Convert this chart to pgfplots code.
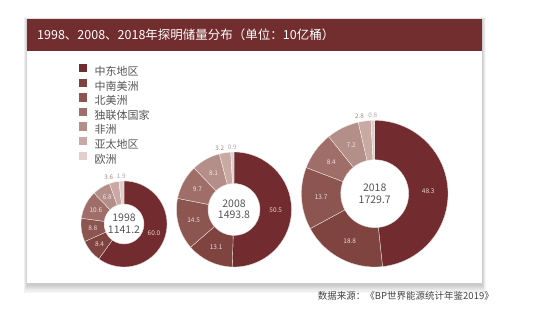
\documentclass[border=0pt]{standalone}
\usepackage{fontspec}
\setmainfont{Noto Sans CJK SC}
\usepackage{pgfplots}
\usepackage{pgfplotstable}
\pgfplotsset{compat=1.18}
\usetikzlibrary{calc}

\definecolor{c0}{HTML}{722B2E}
\definecolor{c1}{HTML}{7F4440}
\definecolor{c2}{HTML}{8C5550}
\definecolor{c3}{HTML}{A06E68}
\definecolor{c4}{HTML}{B48E88}
\definecolor{c5}{HTML}{C8A9A4}
\definecolor{c6}{HTML}{E2CFCB}
\definecolor{titlebar}{HTML}{722D2F}
\definecolor{txtgray}{HTML}{555555}

% share of proven reserves (%), clockwise from 12 o'clock
\pgfplotstableread{
idx v1998 v2008 v2018
0 60.0 50.5 48.3
1 8.4 13.1 18.8
2 8.8 14.5 13.7
3 10.6 9.7 8.4
4 6.8 8.1 7.2
5 3.6 3.2 2.8
6 1.9 0.9 0.8
}\reserves

\newcommand\lblfont{\fontsize{6.5}{7}\selectfont}
\newcommand\outfont{\fontsize{6.3}{7}\selectfont}

% #1 column, #2 cx, #3 cy, #4 R, #5 r, #6 year, #7 total
\newcommand\donut[7]{%
  \def\tot{0}%
  \pgfplotsforeachungrouped \i in {0,...,6}{%
    \pgfplotstablegetelem{\i}{#1}\of\reserves
    \pgfmathsetmacro\tot{\tot+\pgfplotsretval}}%
  \def\cum{0}%
  \pgfplotsforeachungrouped \i in {0,...,6}{%
    \pgfplotstablegetelem{\i}{#1}\of\reserves
    \let\val\pgfplotsretval
    \pgfmathsetmacro\aa{90-\cum/\tot*360}%
    \pgfmathsetmacro\cum{\cum+\val}%
    \pgfmathsetmacro\ab{90-\cum/\tot*360}%
    \pgfmathsetmacro\am{(\aa+\ab)/2}%
    \pgfmathsetmacro\rmid{(#4+#5)/2}%
    \pgfmathsetmacro\ro{#4+2}%
    \pgfmathtruncatemacro\issmall{\val<5}%
    \edef\temp{\noexpand\fill[c\i, draw=white!85!c\i, line width=0.35pt] ($(axis cs:#2,#3)+(\aa:#4pt)$) arc[start angle=\aa,end angle=\ab,radius=#4pt] -- ($(axis cs:#2,#3)+(\ab:#5pt)$) arc[start angle=\ab,end angle=\aa,radius=#5pt] -- cycle;}%
    \temp
    \ifnum\issmall=1
      \ifnum\i=5 \def\anc{south east}\else\def\anc{south}\fi
      \edef\temp{\noexpand\node[text=c\i!80!black, inner sep=0.3pt, anchor=\anc, font=\noexpand\outfont] at ($(axis cs:#2,#3)+(\am:\ro pt)$) {\val};}%
    \else
      \edef\temp{\noexpand\node[text=white, opacity=0.8, inner sep=0pt, font=\noexpand\lblfont] at ($(axis cs:#2,#3)+(\am:\rmid pt)$) {\val};}%
    \fi
    \temp
  }%
  \node[align=center, text=txtgray, inner sep=0pt, font=\fontsize{10.5}{11.5}\selectfont] at (axis cs:#2,#3) {#6\\#7};
}

\begin{document}
\begin{tikzpicture}
\begin{axis}[
  x=1pt, y=1pt,
  xmin=0, xmax=543, ymin=0, ymax=321,
  hide axis, clip=false,
  legend cell align=left,
  legend style={draw=none, fill=none, at={(0.1455,0.8006)}, anchor=north west,
    font=\fontsize{11}{13}\selectfont, text=txtgray, row sep=1.2pt, column sep=7.7pt,
    inner sep=0pt, outer sep=0pt,
    nodes={inner sep=0pt, outer sep=0pt, text height=9pt, text depth=2pt}},
]
\path (axis cs:0,0) rectangle (axis cs:543,321);
% card shadow
\pgfplotsforeachungrouped \k in {1,...,7}{%
  \edef\temp{\noexpand\fill[black, opacity=0.03] (axis cs:{27-\k*0.5},{36-\k*1.1}) rectangle (axis cs:{482+\k*0.5},{301+\k*0.4});}\temp}
% card
\fill[white] (axis cs:27,38) rectangle (axis cs:482,302);
\fill[titlebar] (axis cs:27,270) rectangle (axis cs:482,302);
\node[anchor=west, text=white, inner sep=0pt, font=\fontsize{12.5}{14}\selectfont] at (axis cs:37,286) {1998、2008、2018年探明储量分布（单位：10亿桶）};
\node[anchor=east, text=black!75, inner sep=0pt, font=\fontsize{9.5}{11}\selectfont] at (axis cs:494,25) {数据来源：《BP世界能源统计年鉴2019》};

\donut{v1998}{124}{97}{43}{20}{1998}{1141.2}
\donut{v2008}{234}{111.5}{57.5}{26}{2008}{1493.8}
\donut{v2018}{374.7}{127.3}{73.3}{34}{2018}{1729.7}

\addlegendimage{legend image code/.code={\fill[c0] (0pt,0.3pt) rectangle (7.4pt,7.7pt);}}
\addlegendentry{中东地区}
\addlegendimage{legend image code/.code={\fill[c1] (0pt,0.3pt) rectangle (7.4pt,7.7pt);}}
\addlegendentry{中南美洲}
\addlegendimage{legend image code/.code={\fill[c2] (0pt,0.3pt) rectangle (7.4pt,7.7pt);}}
\addlegendentry{北美洲}
\addlegendimage{legend image code/.code={\fill[c3] (0pt,0.3pt) rectangle (7.4pt,7.7pt);}}
\addlegendentry{独联体国家}
\addlegendimage{legend image code/.code={\fill[c4] (0pt,0.3pt) rectangle (7.4pt,7.7pt);}}
\addlegendentry{非洲}
\addlegendimage{legend image code/.code={\fill[c5] (0pt,0.3pt) rectangle (7.4pt,7.7pt);}}
\addlegendentry{亚太地区}
\addlegendimage{legend image code/.code={\fill[c6] (0pt,0.3pt) rectangle (7.4pt,7.7pt);}}
\addlegendentry{欧洲}
\end{axis}
\end{tikzpicture}
\end{document}
